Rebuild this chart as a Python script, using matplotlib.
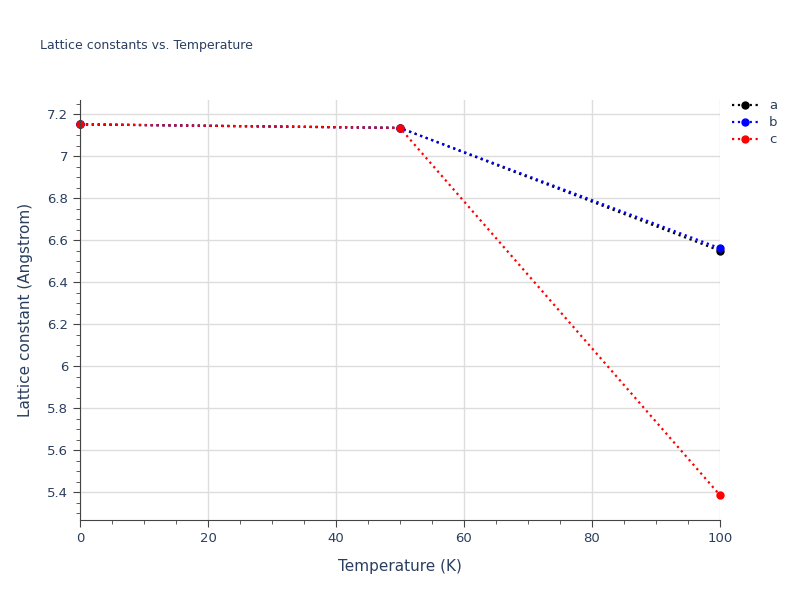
import matplotlib
matplotlib.use("Agg")
import matplotlib.pyplot as plt
from matplotlib.ticker import MultipleLocator

temps = [0, 50, 100]
a_vals = [7.152, 7.135, 6.550]
b_vals = [7.152, 7.135, 6.562]
c_vals = [7.152, 7.135, 5.386]
series = [("a", a_vals, "black"), ("b", b_vals, "blue"), ("c", c_vals, "red")]

fig = plt.figure(figsize=(8, 6), dpi=100)
ax = fig.add_axes([0.1, 0.133, 0.8, 0.7])
for name, vals, col in series:
    ax.plot(temps, vals, linestyle=":", color=col, lw=1.6, marker="o", ms=5,
            label=name, clip_on=False)

ax.set_xlim(0, 100)
ax.set_ylim(5.267, 7.267)
ax.xaxis.set_major_locator(MultipleLocator(20))
ax.xaxis.set_minor_locator(MultipleLocator(5))
ax.yaxis.set_major_locator(MultipleLocator(0.2))
ax.yaxis.set_minor_locator(MultipleLocator(0.05))
ax.grid(True, which="major", color="#dddddd", lw=1)
ax.set_axisbelow(True)
for s in ["top", "right"]:
    ax.spines[s].set_visible(False)
ax.spines["left"].set_color("#444444")
ax.spines["bottom"].set_color("#444444")
ax.tick_params(which="both", direction="out", colors="#444444", labelcolor="#2a3f5f", labelsize=9.5)
ax.tick_params(which="minor", length=3)
ax.tick_params(which="major", length=5)
ax.yaxis.set_major_formatter(matplotlib.ticker.FuncFormatter(lambda v, p: f"{v:g}"))
ax.set_xlabel("Temperature (K)", color="#2a3f5f", fontsize=11, labelpad=10)
ax.set_ylabel("Lattice constant (Angstrom)", color="#2a3f5f", fontsize=11, labelpad=10)
fig.text(0.05, 0.918, "Lattice constants vs. Temperature", color="#2a3f5f", fontsize=9)
ax.legend(loc="upper left", bbox_to_anchor=(1.0, 1.03), frameon=False, fontsize=9.5,
          handlelength=2, labelcolor="#2a3f5f", labelspacing=0.3)
fig.savefig("out.png")
